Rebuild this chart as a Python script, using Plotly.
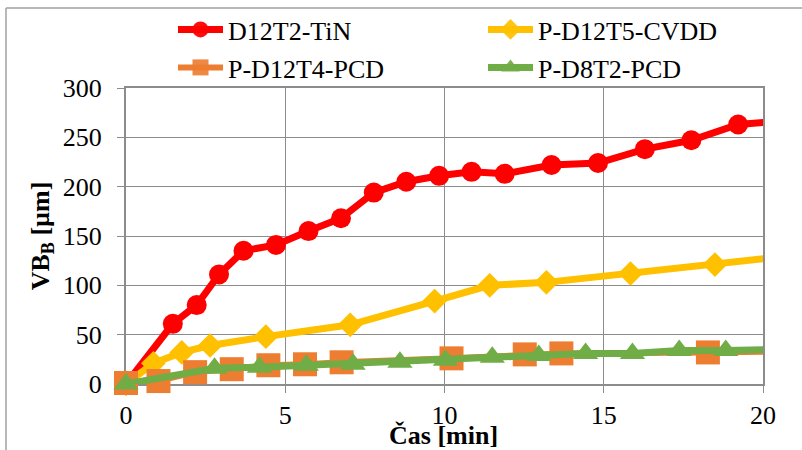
import plotly.graph_objects as go

# ---- data ----
red_name = "D12T2-TiN"
red_x = [0, 1.47, 2.22, 2.92, 3.69, 4.71, 5.73, 6.75, 7.78, 8.80, 9.83, 10.85, 11.89, 13.36, 14.82, 16.29, 17.75, 19.22, 20.68]
red_y = [0, 61, 80, 111, 135, 141, 155, 168, 194, 205, 211, 215, 213, 222, 224, 238, 247, 263, 267]

yel_name = "P-D12T5-CVDD"
yel_x = [0, 0.86, 1.75, 2.64, 4.39, 7.04, 9.69, 11.42, 13.20, 15.84, 18.49, 21.14]
yel_y = [0, 21, 32, 39, 48, 60, 84, 100, 103, 112, 121, 131]

ora_name = "P-D12T4-PCD"
ora_x = [0, 1.02, 2.17, 3.32, 4.47, 5.62, 6.77, 10.22, 12.52, 13.67, 18.27, 20.57]
ora_y = [1, 3, 12, 15, 19, 20, 22, 26, 30, 31, 32, 33]

gre_name = "P-D8T2-PCD"
gre_x = [0, 2.78, 4.19, 5.66, 7.13, 8.60, 10.03, 11.50, 12.96, 14.43, 15.90, 17.37, 18.83, 20.30]
gre_y = [0, 16, 17, 19, 20, 22, 24, 27, 29, 31, 31, 34, 34, 35]

x_ticks = [0, 5, 10, 15, 20]
y_ticks = [0, 50, 100, 150, 200, 250, 300]
x_title = "<b>Čas [min]</b>"
y_title = "<b>VB<sub>B</sub> [µm]</b>"

XMAX = 20
FONT = "Liberation Serif"

L, R, T, B = 126, 39, 88, 66
W, H = 802, 450
pw, ph = W - L - R, H - T - B


def px_x(p):
    return (p - L) / pw


def px_y(p):
    return (H - B - p) / ph


def vis(xs):
    # hide markers that fall outside the visible x range (line still runs to the edge)
    return [1 if x <= XMAX else 0 for x in xs]


# name, x, y, colour, symbol, marker size, line width, legend id, legend item pos (px)
series = [
    (red_name, red_x, red_y, "#FF0000", "circle", 20, 7, "legend", (173, 6)),
    (yel_name, yel_x, yel_y, "#FFC000", "diamond", 19, 7, "legend2", (483, 6)),
    (ora_name, ora_x, ora_y, "#ED7D31", "square", 24, 6, "legend3", (173, 44)),
    (gre_name, gre_x, gre_y, "#70AD47", "triangle-up", 22, 7, "legend4", (483, 44)),
]

fig = go.Figure()
legends = {}
for name, xs, ys, col, sym, msize, lw, lg, (lx, ly) in series:
    fig.add_trace(go.Scatter(
        x=xs, y=ys, name=name, mode="lines+markers",
        line=dict(color=col, width=lw),
        marker=dict(symbol=sym, size=msize, color=col, opacity=vis(xs)),
        cliponaxis=False, legend=lg,
    ))
    legends[lg] = dict(
        x=px_x(lx), xanchor="left", y=px_y(ly), yanchor="top",
        orientation="v", itemwidth=45,
        font=dict(family=FONT, size=26, color="black"),
        bgcolor="rgba(0,0,0,0)",
    )

border = dict(color="#A0A0A0", width=1.5)

fig.update_layout(
    width=W, height=H,
    margin=dict(l=L, r=R, t=T, b=B, autoexpand=False),
    paper_bgcolor="white", plot_bgcolor="white",
    font=dict(family=FONT, size=26, color="black"),
    showlegend=True,
    xaxis=dict(
        range=[0, XMAX], tickvals=x_ticks, ticktext=[str(v) for v in x_ticks],
        showgrid=True, gridcolor="#8C8C8C", gridwidth=1,
        showline=True, linecolor="#8C8C8C", linewidth=2, mirror=True,
        ticks="outside", ticklen=7, tickcolor="#8C8C8C", tickwidth=1,
        ticklabelstandoff=0,
        zeroline=False, layer="below traces",
        tickfont=dict(family=FONT, size=26),
    ),
    yaxis=dict(
        range=[0, 300], tickvals=y_ticks, ticktext=[str(v) for v in y_ticks],
        showgrid=True, gridcolor="#8C8C8C", gridwidth=1,
        showline=True, linecolor="#8C8C8C", linewidth=2, mirror=True,
        ticks="outside", ticklen=7, tickcolor="#8C8C8C", tickwidth=1,
        ticklabelstandoff=10,
        zeroline=False, layer="below traces",
        title=dict(text=y_title, font=dict(family=FONT, size=26), standoff=6),
        tickfont=dict(family=FONT, size=26),
    ),
    annotations=[dict(
        text=x_title, xref="paper", yref="paper",
        x=px_x(443), y=px_y(435), xanchor="center", yanchor="middle",
        showarrow=False, font=dict(family=FONT, size=26, color="black"),
    )],
    shapes=[
        dict(type="line", xref="paper", yref="paper",
             x0=px_x(6), x1=px_x(6), y0=px_y(8), y1=px_y(470), line=border),
        dict(type="line", xref="paper", yref="paper",
             x0=px_x(6), x1=px_x(830), y0=px_y(8), y1=px_y(8), line=border),
    ],
    **legends,
)

fig.write_html("out.html")
